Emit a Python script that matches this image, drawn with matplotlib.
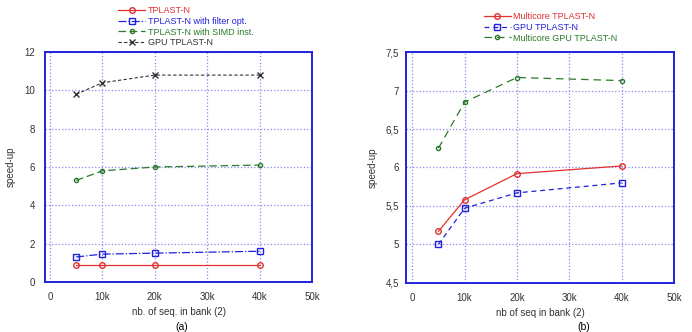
import matplotlib.pyplot as plt
from matplotlib.ticker import FuncFormatter

plt.rcParams['font.family'] = ['Liberation Sans', 'DejaVu Sans']
plt.rcParams['font.size'] = 7

# Data
seq_bank = [5000, 10000, 20000, 40000]

# (a)
tplast = [0.9, 0.9, 0.9, 0.9]
tplast_filter = [1.3, 1.45, 1.5, 1.6]
tplast_simd = [5.3, 5.8, 6.0, 6.1]
gpu_tplast_a = [9.8, 10.4, 10.8, 10.8]

# (b)
multicore = [5.17, 5.58, 5.92, 6.02]
gpu_tplast_b = [5.0, 5.47, 5.67, 5.8]
multicore_gpu = [6.25, 6.85, 7.17, 7.13]

x_ticks = [0, 10000, 20000, 30000, 40000, 50000]
x_labels = ['0', '10k', '20k', '30k', '40k', '50k']

frame_col = '#2222dd'
grid_col = '#8888ee'

fig = plt.figure(figsize=(6.92, 3.32), dpi=100)
ax1 = fig.add_axes([0.065, 0.151, 0.386, 0.692])
ax2 = fig.add_axes([0.587, 0.148, 0.387, 0.695])


def style(ax, xmin, ypad):
    for s in ax.spines.values():
        s.set_color(frame_col)
        s.set_linewidth(1.4)
    ax.grid(True, color=grid_col, linestyle=':', linewidth=0.9)
    ax.set_xlim(xmin, 50000)
    ax.set_xticks(x_ticks)
    ax.set_xticklabels(x_labels)
    ax.tick_params(length=0, colors='#333333')
    ax.tick_params(axis='x', pad=7)
    ax.tick_params(axis='y', pad=ypad)
    ax.set_ylabel('speed-up', color='#333333', labelpad=6)


ax1.plot(seq_bank, tplast, color='#e03030', linestyle='-', marker='o', ms=4,
         mfc='none', lw=0.9, label='TPLAST-N')
ax1.plot(seq_bank, tplast_filter, color='#2020dd', linestyle='-.', marker='s', ms=4,
         mfc='none', lw=0.9, label='TPLAST-N with filter opt.')
ax1.plot(seq_bank, tplast_simd, color='#2a7a2a', linestyle=(0, (6, 3)), marker='o', ms=3,
         mfc='none', lw=0.9, label='TPLAST-N with SIMD inst.')
ax1.plot(seq_bank, gpu_tplast_a, color='#333333', linestyle=(0, (3, 2)), marker='x', ms=4,
         lw=0.8, label='GPU TPLAST-N')
style(ax1, -950, 7)
ax1.set_ylim(0, 12)
ax1.set_yticks([0, 2, 4, 6, 8, 10, 12])
ax1.set_xlabel('nb. of seq. in bank (2)', color='#333333', labelpad=4)
leg1 = fig.legend(handles=ax1.get_lines(), loc='upper left',
                  bbox_to_anchor=(0.1705, 0.982), frameon=False, fontsize=6.5,
                  handlelength=3, handletextpad=0.3, labelspacing=0.2,
                  borderpad=0, borderaxespad=0)
for t, l in zip(leg1.get_texts(), leg1.get_lines()):
    t.set_color(l.get_color())
fig.text(0.262, 0.015, '(a)', ha='center', va='center', fontsize=7.5)

ax2.plot(seq_bank, multicore, color='#e03030', linestyle='-', marker='o', ms=4,
         mfc='none', lw=0.9, label='Multicore TPLAST-N')
ax2.plot(seq_bank, gpu_tplast_b, color='#2020dd', linestyle=(0, (4, 3)), marker='s', ms=4,
         mfc='none', lw=0.9, label='GPU TPLAST-N')
ax2.plot(seq_bank, multicore_gpu, color='#2a7a2a', linestyle=(0, (6, 4)), marker='o', ms=3,
         mfc='none', lw=0.9, label='Multicore GPU TPLAST-N')
style(ax2, -1150, 5)
ax2.set_ylim(4.5, 7.5)
ax2.set_yticks([4.5, 5, 5.5, 6, 6.5, 7, 7.5])
ax2.yaxis.set_major_formatter(FuncFormatter(lambda v, p: ('%g' % v).replace('.', ',')))
ax2.set_xlabel('nb of seq in bank (2)', color='#333333', labelpad=4)
leg2 = fig.legend(handles=ax2.get_lines(), loc='upper left',
                  bbox_to_anchor=(0.699, 0.964), frameon=False, fontsize=6.5,
                  handlelength=3, handletextpad=0.3, labelspacing=0.2,
                  borderpad=0, borderaxespad=0)
for t, l in zip(leg2.get_texts(), leg2.get_lines()):
    t.set_color(l.get_color())
fig.text(0.843, 0.015, '(b)', ha='center', va='center', fontsize=7.5)

fig.savefig('out.png', dpi=100)
